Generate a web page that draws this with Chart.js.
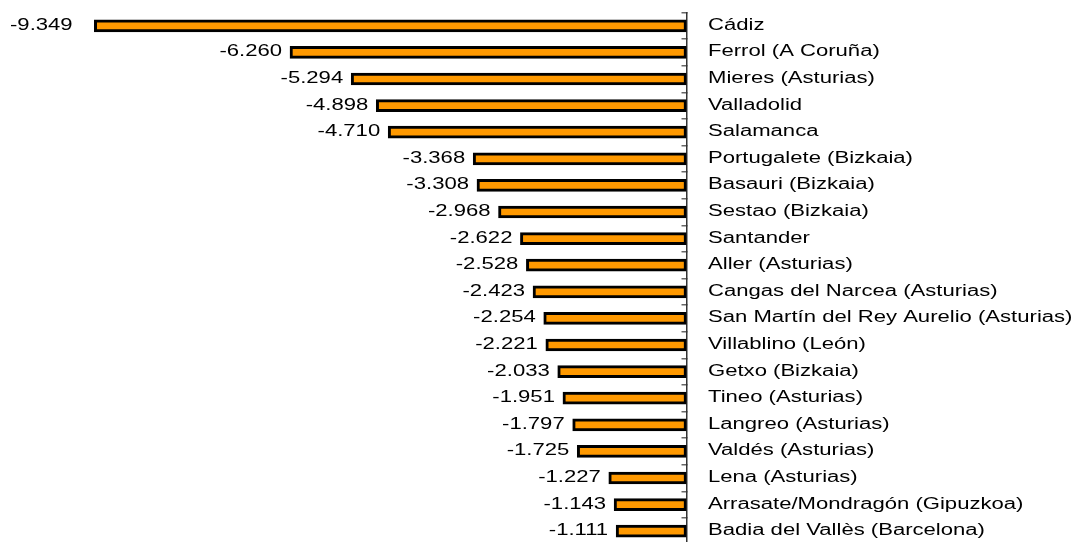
<!DOCTYPE html>
<html>
<head>
<meta charset="utf-8">
<script src="https://cdn.jsdelivr.net/npm/chart.js@4"></script>
<style>
  html, body { margin: 0; padding: 0; background: #fff; overflow: hidden; }
  #chart { display: block; }
</style>
</head>
<body>
<canvas id="chart" width="1075" height="546"></canvas>
<script>
const cities = [
  "Cádiz",
  "Ferrol (A Coruña)",
  "Mieres (Asturias)",
  "Valladolid",
  "Salamanca",
  "Portugalete (Bizkaia)",
  "Basauri (Bizkaia)",
  "Sestao (Bizkaia)",
  "Santander",
  "Aller (Asturias)",
  "Cangas del Narcea (Asturias)",
  "San Martín del Rey Aurelio (Asturias)",
  "Villablino (León)",
  "Getxo (Bizkaia)",
  "Tineo (Asturias)",
  "Langreo (Asturias)",
  "Valdés (Asturias)",
  "Lena (Asturias)",
  "Arrasate/Mondragón (Gipuzkoa)",
  "Badia del Vallès (Barcelona)"
];

const changes = [
  -9.349, -6.260, -5.294, -4.898, -4.710,
  -3.368, -3.308, -2.968, -2.622, -2.528,
  -2.423, -2.254, -2.221, -2.033, -1.951,
  -1.797, -1.725, -1.227, -1.143, -1.111
];

// the reference text looks stretched sideways, so text is drawn by hand
const FONT = '16px "Liberation Sans", Arial, sans-serif';
const STRETCH = 1.38;

function stretchedText(ctx, text, x, y, align) {
  ctx.save();
  ctx.translate(x, y);
  ctx.scale(STRETCH, 1);
  ctx.textAlign = align;
  ctx.fillText(text, 0, 0);
  ctx.restore();
}

const labelPlugin = {
  id: "labels",
  afterDatasetsDraw(chart) {
    const ctx = chart.ctx;
    const bars = chart.getDatasetMeta(0).data;
    const axisX = chart.chartArea.right;
    ctx.save();
    ctx.font = FONT;
    ctx.fillStyle = "#000";
    ctx.textBaseline = "alphabetic";
    bars.forEach((bar, i) => {
      const y = bar.y + 4;
      // value label, left of the bar end
      const txt = changes[i].toFixed(3);
      const w = ctx.measureText(txt).width * STRETCH;
      const right = bar.x - 8;
      if (right - w < 40) {
        stretchedText(ctx, txt, 10, y, "left");
      } else {
        stretchedText(ctx, txt, right, y, "right");
      }
      // city name, right of the axis
      stretchedText(ctx, cities[i], axisX + 21.5, y, "left");
    });
    ctx.restore();
  }
};

new Chart(document.getElementById("chart"), {
  type: "bar",
  data: {
    labels: cities,
    datasets: [{
      data: changes,
      backgroundColor: "#FF9900",
      borderColor: "#000",
      borderWidth: 3,
      borderSkipped: false,
      barThickness: 12
    }]
  },
  options: {
    indexAxis: "y",
    responsive: false,
    animation: false,
    devicePixelRatio: 1,
    layout: { padding: { left: 53.1, right: 388.5, top: 12.5, bottom: 1.5 } },
    plugins: { legend: { display: false }, tooltip: { enabled: false } },
    scales: {
      x: { min: -10, max: 0, display: false },
      y: {
        position: "right",
        ticks: { display: false },
        grid: { drawOnChartArea: false, tickLength: -5, color: "#666", lineWidth: 1.5, offset: true },
        border: { color: "#333", width: 1.5 },
        afterFit(scale) { scale.width = 0; }
      }
    }
  },
  plugins: [labelPlugin]
});
</script>
</body>
</html>
